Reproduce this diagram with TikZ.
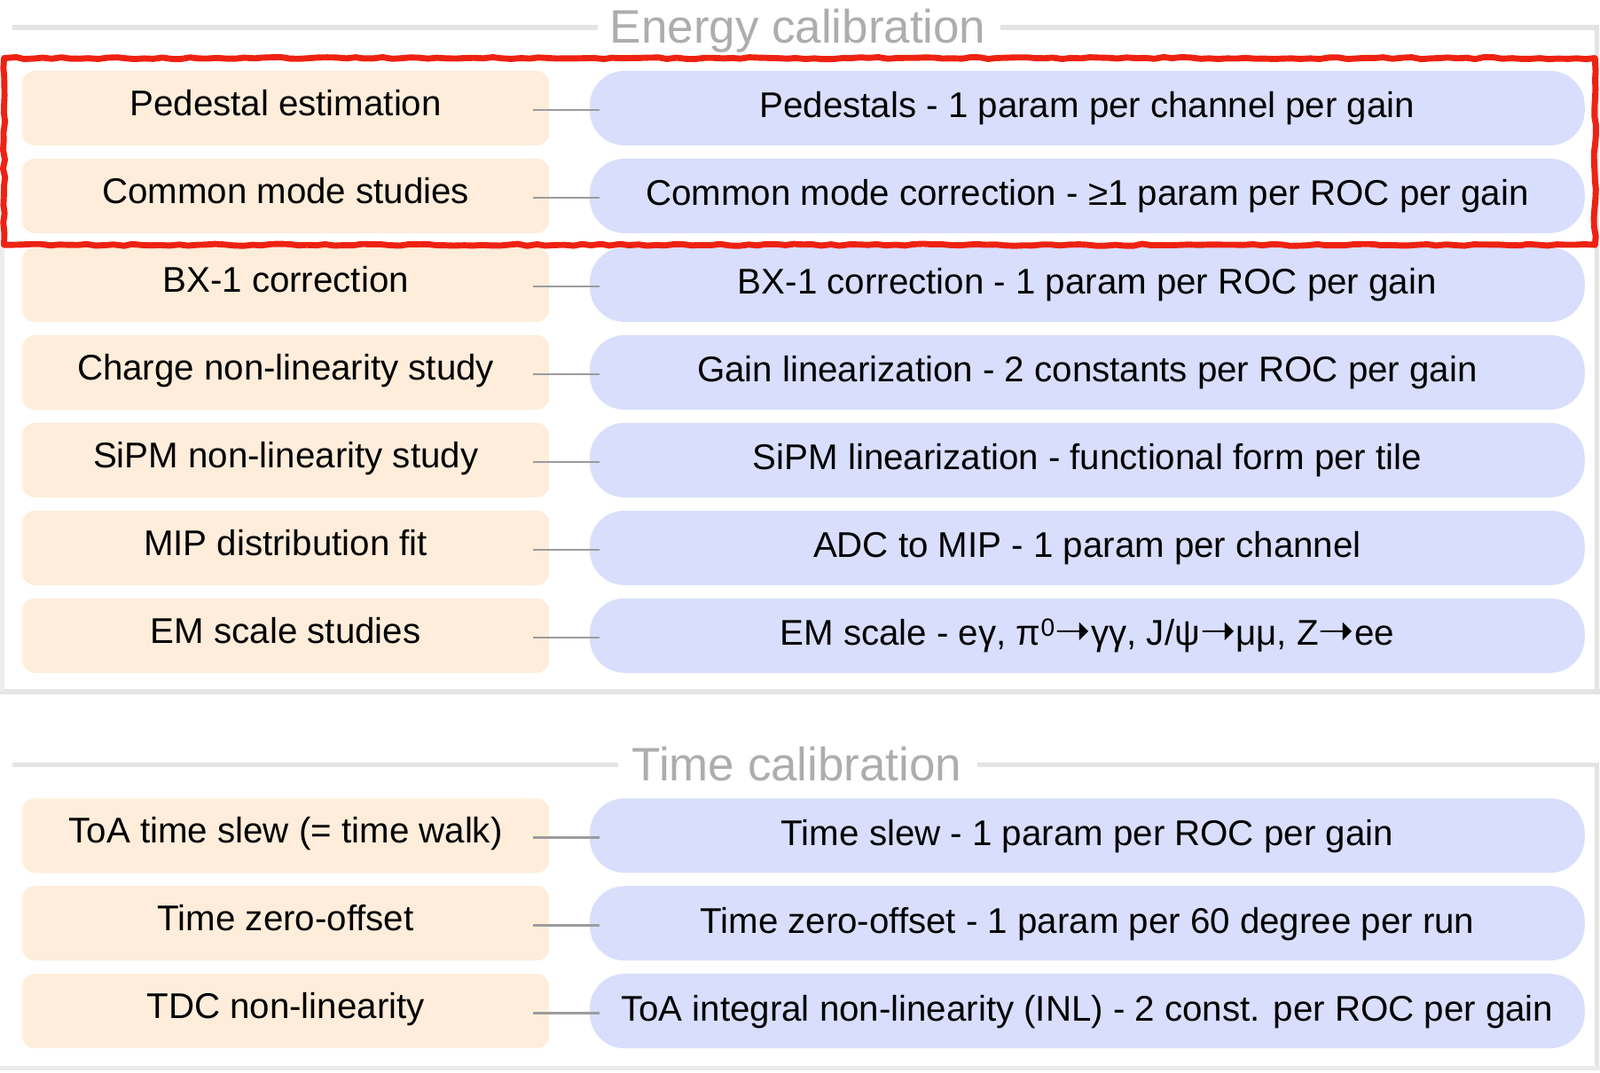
\documentclass[tikz,border=0pt]{standalone}
\usepackage{fontspec}
\setmainfont{Liberation Sans}
\newfontfamily\arrfont{DejaVu Sans}
\usetikzlibrary{decorations.pathmorphing}
\definecolor{peach}{HTML}{FDEDDA}
\definecolor{lav}{HTML}{D8DEFC}
\definecolor{conn}{HTML}{9C9C9C}
\definecolor{frameg}{HTML}{E4E4E4}
\definecolor{ttl}{HTML}{ADADAD}
\definecolor{redbox}{HTML}{EE2212}
\newcommand{\rarr}{{\arrfont\fontsize{42}{42}\selectfont\raisebox{0pt}{➝}}}
\begin{document}
\begin{tikzpicture}[x=1pt,y=-1pt,
  task/.style={fill=peach, rounded corners=12pt, minimum width=516pt, minimum height=73pt,
    inner sep=0pt, text height=22pt, text depth=7pt, font=\fontsize{35}{40}\selectfont, text=black},
  result/.style={fill=lav, rounded corners=34pt, minimum width=975pt, minimum height=73pt,
    inner sep=0pt, text height=26pt, text depth=7pt, font=\fontsize{35}{40}\selectfont, text=black},
  link/.style={draw=conn, line width=2pt},
  frameline/.style={draw=frameg, line width=4.5pt},
  sectitle/.style={text=ttl, font=\fontsize{46}{50}\selectfont, inner sep=0pt, anchor=base},
  sketch/.style={decorate, decoration={random steps, segment length=9pt, amplitude=1pt}}
]
\useasboundingbox (0,0) rectangle (1568,1051);

% frames
\draw[frameline] (12,27) -- (586,27);
\draw[frameline] (980,27) -- (1565,27) -- (1565,678);
\draw[frameline] (0,678) -- (1568,678);
\draw[frameline, draw=frameg!70] (2,240) -- (2,678);
\draw[frameline] (12,750) -- (606,750);
\draw[frameline] (958,750) -- (1565,750) -- (1565,1047);
\draw[frameline, draw=frameg!70] (0,1047) -- (1568,1047);

\node[sectitle] (et) at (782,42) {Energy calibration};
\node[sectitle] (tt) at (781,765) {Time calibration};

% rows
\node[task] (l1) at (280,106) {Pedestal estimation};
\node[result] (r1) at (1065.5,106) {Pedestals - 1 param per channel per gain};
\node[task] (l2) at (280,192) {Common mode studies};
\node[result] (r2) at (1065.5,192) {Common mode correction - ≥1 param per ROC per gain};
\node[task] (l3) at (280,279) {BX-1 correction};
\node[result] (r3) at (1065.5,279) {BX-1 correction - 1 param per ROC per gain};
\node[task] (l4) at (280,365) {Charge non-linearity study};
\node[result] (r4) at (1065.5,365) {Gain linearization - 2 constants per ROC per gain};
\node[task] (l5) at (280,451) {SiPM non-linearity study};
\node[result] (r5) at (1065.5,451) {SiPM linearization - functional form per tile};
\node[task] (l6) at (280,537) {MIP distribution fit};
\node[result] (r6) at (1065.5,537) {ADC to MIP - 1 param per channel};
\node[task] (l7) at (280,623) {EM scale studies};
\node[result] (r7) at (1065.5,623) {EM scale - eγ, π\textsuperscript{0}\rarr γγ, J/ψ\rarr μμ, Z\rarr ee};

\node[task] (l8) at (280,819) {ToA time slew (= time walk)};
\node[result] (r8) at (1065.5,819) {Time slew - 1 param per ROC per gain};
\node[task] (l9) at (280,905) {Time zero-offset};
\node[result] (r9) at (1065.5,905) {Time zero-offset - 1 param per 60 degree per run};
\node[task] (l10) at (280,991) {TDC non-linearity};
\node[result] (r10) at (1065.5,991) {ToA integral non-linearity (INL) - 2 const. per ROC per gain};

\foreach \i in {1,...,10}{
  \draw[link] ([xshift=-16pt,yshift=-2pt]l\i.east) -- ([xshift=10pt,yshift=-2pt]r\i.west);
}

% highlight
\draw[redbox, line width=6pt, line join=round, sketch] (4,57) rectangle (1563,240);
\end{tikzpicture}
\end{document}
